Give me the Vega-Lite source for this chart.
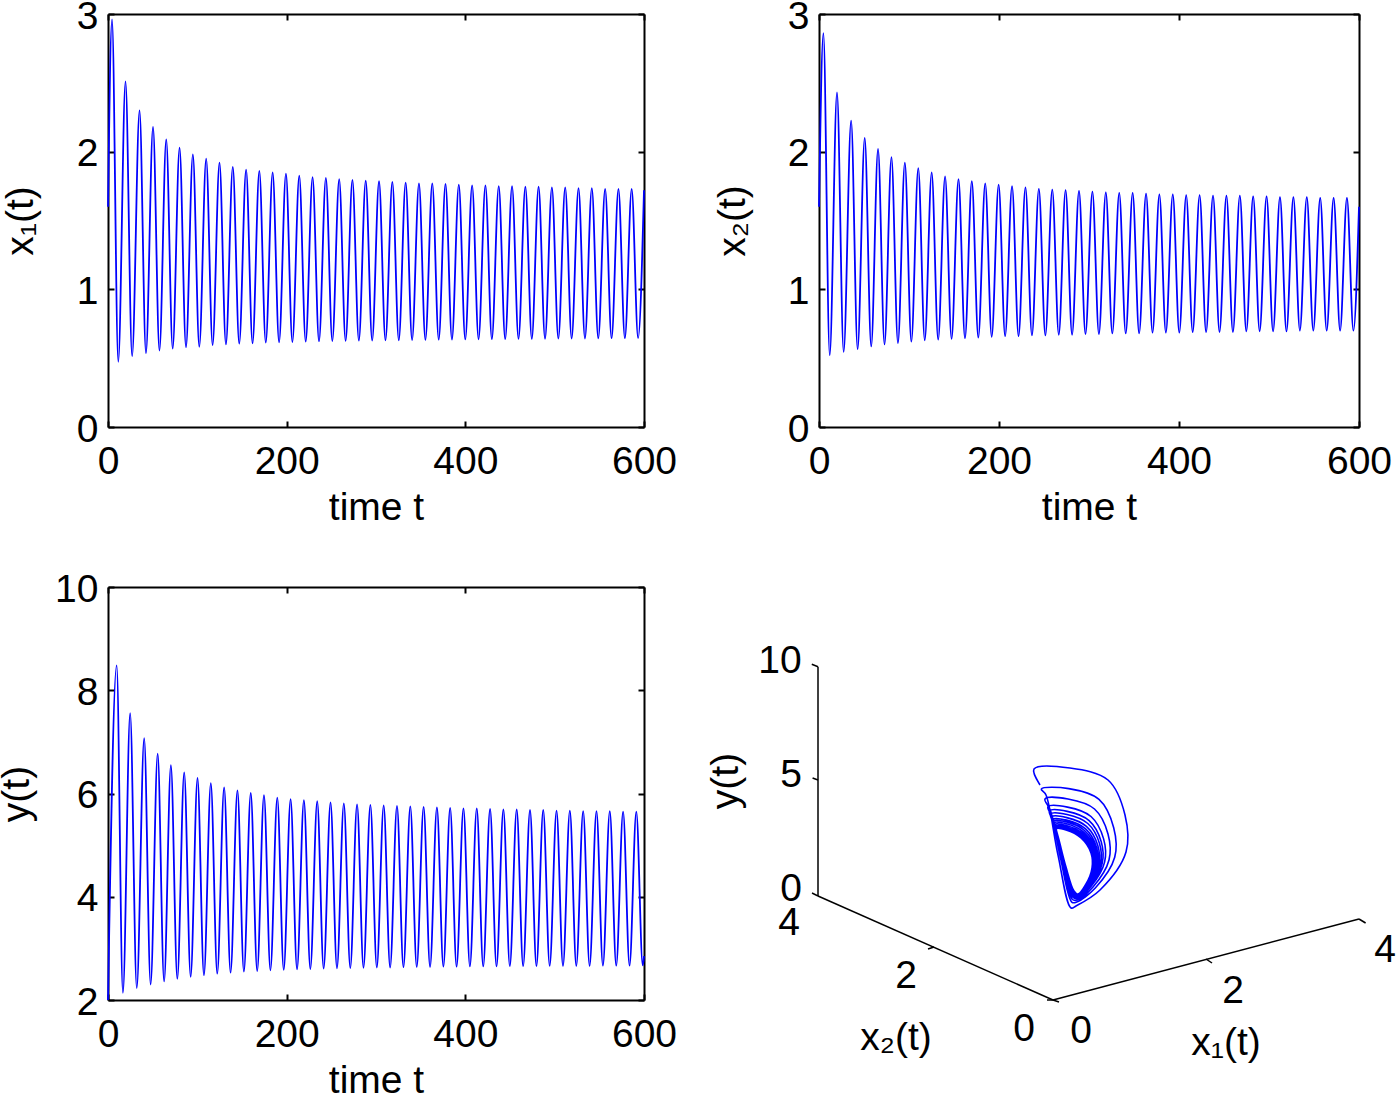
{"$schema":"https://vega.github.io/schema/vega-lite/v6.json","background":"white","padding":{"left":-3,"top":-3,"right":0,"bottom":0},"bounds":"flush","spacing":573,
"config":{"view":{"stroke":null},"font":"Liberation Sans","axis":{"labelFont":"Liberation Sans","titleFont":"Liberation Sans","labelFontSize":39,"titleFontSize":39,"labelColor":"black","titleColor":"black","domainColor":"black","tickColor":"black","domainWidth":2,"tickWidth":2,"tickSize":-6,"grid":false,"labelOverlap":false,"labelBound":false,"labelFlush":false,"titleFontWeight":"normal"}},
"datasets":{
"x1":[{"t":0,"v":1.6},{"t":4.5,"v":2.96},{"t":11.5,"v":0.474},{"t":19.6,"v":2.51},{"t":27,"v":0.515},{"t":35.3,"v":2.3},{"t":42.5,"v":0.537},{"t":50.4,"v":2.18},{"t":57.6,"v":0.555},{"t":65.2,"v":2.09},{"t":72.4,"v":0.569},{"t":80.1,"v":2.03},{"t":87.3,"v":0.579},{"t":95,"v":1.98},{"t":102.2,"v":0.583},{"t":109.9,"v":1.95},{"t":117.1,"v":0.595},{"t":124.8,"v":1.92},{"t":132,"v":0.6},{"t":139.7,"v":1.89},{"t":146.9,"v":0.605},{"t":154.6,"v":1.87},{"t":161.8,"v":0.608},{"t":169.4,"v":1.86},{"t":176.6,"v":0.613},{"t":184.3,"v":1.85},{"t":191.5,"v":0.615},{"t":199.2,"v":1.84},{"t":206.4,"v":0.617},{"t":214.1,"v":1.825},{"t":221.3,"v":0.62},{"t":229,"v":1.815},{"t":236.2,"v":0.622},{"t":243.9,"v":1.81},{"t":251.1,"v":0.624},{"t":258.8,"v":1.8},{"t":266,"v":0.625},{"t":273.6,"v":1.795},{"t":280.8,"v":0.627},{"t":288.5,"v":1.79},{"t":295.7,"v":0.628},{"t":303.4,"v":1.785},{"t":310.6,"v":0.63},{"t":318.3,"v":1.78},{"t":325.5,"v":0.63},{"t":333.2,"v":1.775},{"t":340.4,"v":0.632},{"t":348.1,"v":1.77},{"t":355.3,"v":0.633},{"t":363,"v":1.77},{"t":370.2,"v":0.634},{"t":377.8,"v":1.765},{"t":385,"v":0.635},{"t":392.7,"v":1.76},{"t":399.9,"v":0.636},{"t":407.6,"v":1.755},{"t":414.8,"v":0.637},{"t":422.5,"v":1.755},{"t":429.7,"v":0.638},{"t":437.4,"v":1.75},{"t":444.6,"v":0.639},{"t":452.3,"v":1.75},{"t":459.5,"v":0.64},{"t":467.2,"v":1.745},{"t":474.4,"v":0.64},{"t":482,"v":1.745},{"t":489.2,"v":0.641},{"t":496.9,"v":1.74},{"t":504.1,"v":0.642},{"t":511.8,"v":1.74},{"t":519,"v":0.643},{"t":526.7,"v":1.735},{"t":533.9,"v":0.643},{"t":541.6,"v":1.735},{"t":548.8,"v":0.644},{"t":556.5,"v":1.73},{"t":563.7,"v":0.645},{"t":571.4,"v":1.73},{"t":578.6,"v":0.645},{"t":586.2,"v":1.73},{"t":593.4,"v":0.646},{"t":600,"v":1.72}],
"x2":[{"t":0,"v":1.6},{"t":4.9,"v":2.86},{"t":11.9,"v":0.52},{"t":20,"v":2.43},{"t":27.4,"v":0.545},{"t":35.7,"v":2.225},{"t":42.9,"v":0.565},{"t":50.8,"v":2.1},{"t":58,"v":0.585},{"t":65.6,"v":2.02},{"t":72.8,"v":0.6},{"t":80.5,"v":1.96},{"t":87.7,"v":0.61},{"t":95.4,"v":1.92},{"t":102.6,"v":0.62},{"t":110.3,"v":1.88},{"t":117.5,"v":0.63},{"t":125.2,"v":1.85},{"t":132.4,"v":0.635},{"t":140.1,"v":1.82},{"t":147.3,"v":0.64},{"t":155,"v":1.8},{"t":162.2,"v":0.645},{"t":169.8,"v":1.785},{"t":177,"v":0.65},{"t":184.7,"v":1.77},{"t":191.9,"v":0.655},{"t":199.6,"v":1.76},{"t":206.8,"v":0.66},{"t":214.5,"v":1.75},{"t":221.7,"v":0.66},{"t":229.4,"v":1.74},{"t":236.6,"v":0.665},{"t":244.3,"v":1.73},{"t":251.5,"v":0.665},{"t":259.2,"v":1.725},{"t":266.4,"v":0.67},{"t":274,"v":1.72},{"t":281.2,"v":0.67},{"t":288.9,"v":1.715},{"t":296.1,"v":0.675},{"t":303.8,"v":1.71},{"t":311,"v":0.675},{"t":318.7,"v":1.705},{"t":325.9,"v":0.68},{"t":333.6,"v":1.7},{"t":340.8,"v":0.68},{"t":348.5,"v":1.7},{"t":355.7,"v":0.68},{"t":363.4,"v":1.695},{"t":370.6,"v":0.685},{"t":378.2,"v":1.69},{"t":385.4,"v":0.685},{"t":393.1,"v":1.69},{"t":400.3,"v":0.685},{"t":408,"v":1.685},{"t":415.2,"v":0.69},{"t":422.9,"v":1.685},{"t":430.1,"v":0.69},{"t":437.8,"v":1.68},{"t":445,"v":0.69},{"t":452.7,"v":1.68},{"t":459.9,"v":0.69},{"t":467.6,"v":1.68},{"t":474.8,"v":0.695},{"t":482.4,"v":1.675},{"t":489.6,"v":0.695},{"t":497.3,"v":1.675},{"t":504.5,"v":0.695},{"t":512.2,"v":1.67},{"t":519.4,"v":0.695},{"t":527.1,"v":1.67},{"t":534.3,"v":0.7},{"t":542,"v":1.67},{"t":549.2,"v":0.7},{"t":556.9,"v":1.665},{"t":564.1,"v":0.7},{"t":571.8,"v":1.665},{"t":579,"v":0.7},{"t":586.6,"v":1.665},{"t":593.8,"v":0.7},{"t":600,"v":1.6}],
"y":[{"t":0,"v":2},{"t":9.7,"v":8.48},{"t":16.7,"v":2.14},{"t":24.8,"v":7.555},{"t":32.2,"v":2.23},{"t":40.5,"v":7.07},{"t":47.7,"v":2.3},{"t":55.6,"v":6.77},{"t":62.8,"v":2.36},{"t":70.4,"v":6.55},{"t":77.6,"v":2.41},{"t":85.3,"v":6.41},{"t":92.5,"v":2.45},{"t":100.2,"v":6.3},{"t":107.4,"v":2.48},{"t":115.1,"v":6.2},{"t":122.3,"v":2.51},{"t":130,"v":6.12},{"t":137.2,"v":2.53},{"t":144.9,"v":6.06},{"t":152.1,"v":2.55},{"t":159.8,"v":6.01},{"t":167,"v":2.56},{"t":174.6,"v":5.97},{"t":181.8,"v":2.575},{"t":189.5,"v":5.92},{"t":196.7,"v":2.585},{"t":204.4,"v":5.89},{"t":211.6,"v":2.595},{"t":219.3,"v":5.87},{"t":226.5,"v":2.6},{"t":234.2,"v":5.85},{"t":241.4,"v":2.61},{"t":249.1,"v":5.83},{"t":256.3,"v":2.615},{"t":264,"v":5.81},{"t":271.2,"v":2.62},{"t":278.8,"v":5.79},{"t":286,"v":2.625},{"t":293.7,"v":5.78},{"t":300.9,"v":2.63},{"t":308.6,"v":5.77},{"t":315.8,"v":2.63},{"t":323.5,"v":5.76},{"t":330.7,"v":2.635},{"t":338.4,"v":5.75},{"t":345.6,"v":2.64},{"t":353.3,"v":5.74},{"t":360.5,"v":2.64},{"t":368.2,"v":5.73},{"t":375.4,"v":2.645},{"t":383,"v":5.72},{"t":390.2,"v":2.645},{"t":397.9,"v":5.71},{"t":405.1,"v":2.65},{"t":412.8,"v":5.71},{"t":420,"v":2.65},{"t":427.7,"v":5.7},{"t":434.9,"v":2.65},{"t":442.6,"v":5.69},{"t":449.8,"v":2.655},{"t":457.5,"v":5.69},{"t":464.7,"v":2.655},{"t":472.4,"v":5.68},{"t":479.6,"v":2.655},{"t":487.2,"v":5.68},{"t":494.4,"v":2.66},{"t":502.1,"v":5.67},{"t":509.3,"v":2.66},{"t":517,"v":5.67},{"t":524.2,"v":2.66},{"t":531.9,"v":5.66},{"t":539.1,"v":2.66},{"t":546.8,"v":5.66},{"t":554,"v":2.665},{"t":561.7,"v":5.66},{"t":568.9,"v":2.665},{"t":576.6,"v":5.65},{"t":583.8,"v":2.665},{"t":591.4,"v":5.65},{"t":598.6,"v":2.67},{"t":600,"v":2.85}],
"traj":[{"u":1040,"v":785},{"u":1034,"v":769},{"u":1070,"v":768},{"u":1108,"v":780},{"u":1125,"v":815},{"u":1126,"v":852},{"u":1100,"v":890},{"u":1076,"v":906},{"u":1071,"v":908},{"u":1058,"v":855},{"u":1046,"v":795},
{"u":1041.3,"v":789},{"u":1068.7,"v":788.6},{"u":1099,"v":799.3},{"u":1113.7,"v":827.7},{"u":1114.7,"v":857.3},{"u":1095.3,"v":888},{"u":1076.7,"v":902},{"u":1072,"v":902.3},{"u":1060.7,"v":859},{"u":1050.3,"v":810},
{"u":1045,"v":799},{"u":1068,"v":799},{"u":1094.5,"v":809},{"u":1108,"v":834},{"u":1109,"v":860},{"u":1093,"v":887},{"u":1077,"v":900},{"u":1072.5,"v":899.5},{"u":1062,"v":861},{"u":1052.5,"v":817.5},
{"u":1047.9,"v":806.8},{"u":1067.5,"v":807.1},{"u":1091,"v":816.5},{"u":1103.6,"v":838.9},{"u":1104.6,"v":862.1},{"u":1091.2,"v":886.2},{"u":1077.3,"v":898.4},{"u":1072.9,"v":897.3},{"u":1063,"v":862.6},{"u":1054.2,"v":823.4},
{"u":1049.4,"v":811},{"u":1067.2,"v":811.4},{"u":1089.1,"v":820.6},{"u":1101.2,"v":841.6},{"u":1102.2,"v":863.2},{"u":1090.2,"v":885.8},{"u":1077.4,"v":897.6},{"u":1073.1,"v":896.1},{"u":1063.6,"v":863.4},{"u":1055.1,"v":826.5},
{"u":1050.5,"v":814},{"u":1067,"v":814.5},{"u":1087.8,"v":823.5},{"u":1099.5,"v":843.5},{"u":1100.5,"v":864},{"u":1089.5,"v":885.5},{"u":1077.5,"v":897},{"u":1073.3,"v":895.3},{"u":1064,"v":864},{"u":1055.8,"v":828.8},
{"u":1051.6,"v":817},{"u":1066.8,"v":817.6},{"u":1086.4,"v":826.4},{"u":1097.8,"v":845.4},{"u":1098.8,"v":864.8},{"u":1088.8,"v":885.2},{"u":1077.6,"v":896.4},{"u":1073.4,"v":894.4},{"u":1064.4,"v":864.6},{"u":1056.4,"v":831},
{"u":1052.5,"v":819.4},{"u":1066.6,"v":820.1},{"u":1085.3,"v":828.7},{"u":1096.4,"v":846.9},{"u":1097.4,"v":865.4},{"u":1088.2,"v":885},{"u":1077.7,"v":895.9},{"u":1073.5,"v":893.7},{"u":1064.7,"v":865.1},{"u":1056.9,"v":832.8},
{"u":1053.1,"v":821.2},{"u":1066.5,"v":821.9},{"u":1084.5,"v":830.5},{"u":1095.4,"v":848.1},{"u":1096.4,"v":865.9},{"u":1087.8,"v":884.8},{"u":1077.7,"v":895.6},{"u":1073.6,"v":893.2},{"u":1065,"v":865.4},{"u":1057.3,"v":834.2},
{"u":1053.8,"v":823},{"u":1066.4,"v":823.8},{"u":1083.7,"v":832.2},{"u":1094.4,"v":849.2},{"u":1095.4,"v":866.4},{"u":1087.4,"v":884.6},{"u":1077.8,"v":895.2},{"u":1073.7,"v":892.7},{"u":1065.2,"v":865.8},{"u":1057.7,"v":835.5},
{"u":1054.4,"v":824.5},{"u":1066.3,"v":825.4},{"u":1083,"v":833.7},{"u":1093.6,"v":850.2},{"u":1094.6,"v":866.8},{"u":1087,"v":884.5},{"u":1077.9,"v":894.9},{"u":1073.8,"v":892.3},{"u":1065.4,"v":866.1},{"u":1058,"v":836.6},
{"u":1054.9,"v":826},{"u":1066.2,"v":826.9},{"u":1082.4,"v":835.1},{"u":1092.7,"v":851.1},{"u":1093.7,"v":867.2},{"u":1086.7,"v":884.3},{"u":1077.9,"v":894.6},{"u":1073.9,"v":891.9},{"u":1065.6,"v":866.4},{"u":1058.4,"v":837.8},
{"u":1055.3,"v":827.2},{"u":1066.1,"v":828.1},{"u":1081.8,"v":836.3},{"u":1092,"v":851.9},{"u":1093,"v":867.5},{"u":1086.4,"v":884.2},{"u":1077.9,"v":894.4},{"u":1073.9,"v":891.5},{"u":1065.8,"v":866.6},{"u":1058.6,"v":838.7},
{"u":1055.7,"v":828.1},{"u":1066.1,"v":829.1},{"u":1081.4,"v":837.1},{"u":1091.5,"v":852.4},{"u":1092.5,"v":867.8},{"u":1086.2,"v":884.1},{"u":1078,"v":894.2},{"u":1074,"v":891.3},{"u":1065.9,"v":866.8},{"u":1058.8,"v":839.3},
{"u":1056,"v":829},{"u":1066,"v":830},{"u":1081,"v":838},{"u":1091,"v":853},{"u":1092,"v":868},{"u":1086,"v":884},{"u":1078,"v":894},{"u":1074,"v":891},{"u":1066,"v":867},{"u":1059,"v":840},{"u":1056,"v":829}],
"frame":[{"s":"yaxis","u":818,"v":666.7},{"s":"yaxis","u":818,"v":896},{"s":"x2axis","u":818,"v":896},{"s":"x2axis","u":1053,"v":1000},{"s":"x1axis","u":1053,"v":1000},{"s":"x1axis","u":1359,"v":919},
{"s":"t1","u":811.8,"v":664.3},{"s":"t1","u":818,"v":666.7},{"s":"t2","u":812.6,"v":778},{"s":"t2","u":818,"v":780},{"s":"t3","u":812,"v":893},{"s":"t3","u":818,"v":896},{"s":"t4","u":928,"v":949},{"s":"t4","u":934,"v":947},{"s":"t5","u":1047,"v":1000},{"s":"t5","u":1053,"v":1000},{"s":"t6","u":1053,"v":1000},{"s":"t6","u":1059,"v":1002},{"s":"t7","u":1206,"v":959},{"s":"t7","u":1212,"v":963},{"s":"t8","u":1359,"v":919},{"s":"t8","u":1365.6,"v":923}],
"labels":[{"u":780,"v":661,"text":"10"},{"u":791,"v":775,"text":"5"},{"u":791,"v":889,"text":"0"},{"u":789,"v":923,"text":"4"},{"u":906,"v":976,"text":"2"},{"u":1024,"v":1029,"text":"0"},{"u":1081,"v":1031,"text":"0"},{"u":1233,"v":991,"text":"2"},{"u":1385,"v":950,"text":"4"},{"u":896,"v":1038,"text":"x₂(t)"},{"u":1226,"v":1043,"text":"x₁(t)"}],
"ylab":[{"u":726,"v":781,"text":"y(t)"}]
},
"vconcat":[
{"bounds":"flush","spacing":175,"hconcat":[
{"width":536,"height":413,"data":{"name":"x1"},"layer":[
{"mark":{"type":"line","color":"#0000ff","strokeWidth":1.8,"interpolate":"monotone"},"encoding":{"x":{"field":"t","type":"quantitative","scale":{"domain":[0,600],"nice":false},"axis":{"values":[0,200,400,600],"title":"time t","labelPadding":21,"titlePadding":7}},"y":{"field":"v","type":"quantitative","scale":{"domain":[0,3],"nice":false},"axis":{"values":[0,1,2,3],"title":"x₁(t)","labelPadding":16,"labelOffset":2,"titlePadding":36}}}},
{"mark":{"type":"line","opacity":0},"encoding":{"x":{"field":"t","type":"quantitative","scale":{"domain":[0,600],"nice":false},"axis":{"orient":"top","values":[0,200,400,600],"labels":false,"title":null}},"y":{"field":"v","type":"quantitative","scale":{"domain":[0,3],"nice":false},"axis":{"orient":"right","values":[0,1,2,3],"labels":false,"title":null}}}}
],"resolve":{"axis":{"x":"independent","y":"independent"}}},
{"width":540,"height":413,"data":{"name":"x2"},"layer":[
{"mark":{"type":"line","color":"#0000ff","strokeWidth":1.8,"interpolate":"monotone"},"encoding":{"x":{"field":"t","type":"quantitative","scale":{"domain":[0,600],"nice":false},"axis":{"values":[0,200,400,600],"title":"time t","labelPadding":21,"titlePadding":7}},"y":{"field":"v","type":"quantitative","scale":{"domain":[0,3],"nice":false},"axis":{"values":[0,1,2,3],"title":"x₂(t)","labelPadding":16,"labelOffset":2,"titlePadding":35}}}},
{"mark":{"type":"line","opacity":0},"encoding":{"x":{"field":"t","type":"quantitative","scale":{"domain":[0,600],"nice":false},"axis":{"orient":"top","values":[0,200,400,600],"labels":false,"title":null}},"y":{"field":"v","type":"quantitative","scale":{"domain":[0,3],"nice":false},"axis":{"orient":"right","values":[0,1,2,3],"labels":false,"title":null}}}}
],"resolve":{"axis":{"x":"independent","y":"independent"}}}
]},
{"bounds":"flush","spacing":56,"hconcat":[
{"width":536,"height":413,"data":{"name":"y"},"layer":[
{"mark":{"type":"line","color":"#0000ff","strokeWidth":1.8,"interpolate":"monotone"},"encoding":{"x":{"field":"t","type":"quantitative","scale":{"domain":[0,600],"nice":false},"axis":{"values":[0,200,400,600],"title":"time t","labelPadding":21,"titlePadding":7}},"y":{"field":"v","type":"quantitative","scale":{"domain":[2,10],"nice":false},"axis":{"values":[2,4,6,8,10],"title":"y(t)","labelPadding":16,"labelOffset":2,"titlePadding":18}}}},
{"mark":{"type":"line","opacity":0},"encoding":{"x":{"field":"t","type":"quantitative","scale":{"domain":[0,600],"nice":false},"axis":{"orient":"top","values":[0,200,400,600],"labels":false,"title":null}},"y":{"field":"v","type":"quantitative","scale":{"domain":[2,10],"nice":false},"axis":{"orient":"right","values":[2,4,6,8,10],"labels":false,"title":null}}}}
],"resolve":{"axis":{"x":"independent","y":"independent"}}},
{"width":696,"height":507,
"encoding":{"x":{"field":"u","type":"quantitative","scale":{"domain":[700,1396],"nice":false,"zero":false},"axis":null},"y":{"field":"v","type":"quantitative","scale":{"domain":[1094,587],"nice":false,"zero":false},"axis":null}},
"layer":[
{"data":{"name":"frame"},"mark":{"type":"line","color":"black","strokeWidth":1.5},"encoding":{"detail":{"field":"s"}}},
{"data":{"name":"traj"},"mark":{"type":"line","color":"#0000ff","strokeWidth":1.6,"interpolate":"catmull-rom"},"encoding":{"order":{"value":null}}},
{"data":{"name":"labels"},"mark":{"type":"text","fontSize":39,"font":"Liberation Sans","color":"black"},"encoding":{"text":{"field":"text"}}},
{"data":{"name":"ylab"},"mark":{"type":"text","fontSize":39,"font":"Liberation Sans","color":"black","angle":270},"encoding":{"text":{"field":"text"}}}
]}
]}
]}
